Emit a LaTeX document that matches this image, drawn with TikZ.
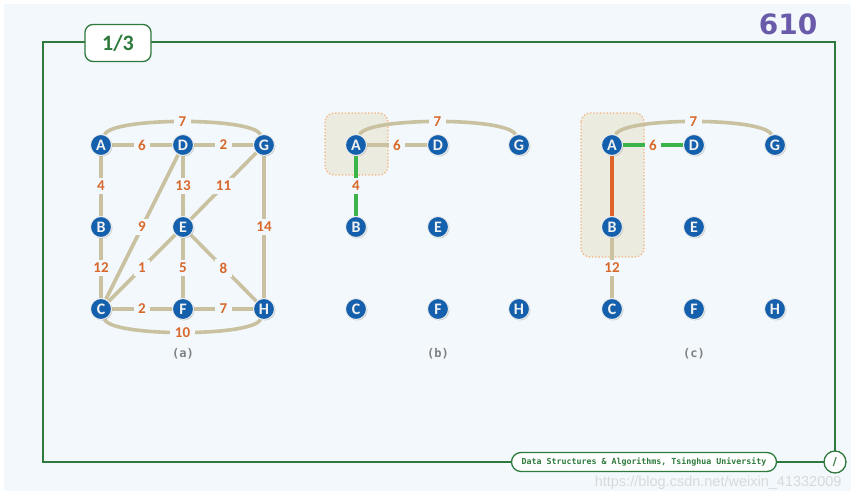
\documentclass[tikz,border=0pt]{standalone}
\usepackage{fontspec}
\setmainfont{Carlito}
\newfontfamily\monof{DejaVu Sans Mono}
\newfontfamily\dvsf{DejaVu Sans}
\newfontfamily\libf{Liberation Sans}
\usetikzlibrary{shadows}
\pgfdeclarelayer{bgl}
\pgfdeclarelayer{back}
\pgfsetlayers{bgl,back,main}
\definecolor{bgc}{HTML}{F2F8FC}
\definecolor{framec}{HTML}{2E7A3C}
\definecolor{tanc}{HTML}{C9C1A0}
\definecolor{lblc}{HTML}{D9682B}
\definecolor{greenc}{HTML}{3BB54A}
\definecolor{orangec}{HTML}{E0632A}
\definecolor{nodec}{HTML}{1560AC}
\definecolor{hlfill}{HTML}{ECE9DA}
\definecolor{hldraw}{HTML}{F7B27A}
\definecolor{numc}{HTML}{6A5BAA}
\tikzset{
  vtx/.style={circle, fill=nodec, draw=white!85!gray, line width=1pt, minimum size=21pt, inner sep=0pt,
    text=white!90!gray, font=\bfseries\fontsize{16}{16}\selectfont, drop shadow={shadow xshift=1pt, shadow yshift=-1pt, opacity=0.35}},
  edge/.style={draw=tanc, line width=3.6pt},
  gedge/.style={draw=greenc, line width=4.5pt},
  oedge/.style={draw=orangec, line width=4.5pt},
  lbl/.style={fill=bgc, text=lblc, inner xsep=4.5pt, inner ysep=3.5pt, font=\bfseries\fontsize{15}{15}\selectfont},
  hlbox/.style={draw=hldraw, dotted, line width=1.3pt, rounded corners=9pt, fill=hlfill, fill opacity=0.85},
  frame/.style={draw=framec, line width=1.3pt},
  caption/.style={text=gray, font=\monof\bfseries\fontsize{12}{12}\selectfont},
}
\newcommand\mknodes[2]{%
  \node[vtx] (#1A) at (#2+101,145) {A};
  \node[vtx] (#1D) at (#2+183,145) {D};
  \node[vtx] (#1G) at (#2+264,145) {G};
  \node[vtx] (#1B) at (#2+101,227) {B};
  \node[vtx] (#1E) at (#2+183,227) {E};
  \node[vtx] (#1C) at (#2+101,309) {C};
  \node[vtx] (#1F) at (#2+183,309) {F};
  \node[vtx] (#1H) at (#2+264,309) {H};
}
\begin{document}
\begin{tikzpicture}[x=1pt,y=-1pt]
\useasboundingbox (0,0) rectangle (855,500);
\begin{pgfonlayer}{bgl}
\fill[white] (0,0) rectangle (855,500);
\fill[bgc] (4,4) rectangle (851,491);
\end{pgfonlayer}
% frame
\draw[frame] (43,42) rectangle (835,462);
\node[draw=framec, line width=1.3pt, fill=white, rounded corners=8pt, minimum width=66pt, minimum height=37pt,
  text=framec, font=\bfseries\fontsize{22}{22}\selectfont] (pg) at (118,43) {1/3};
\node[text=numc, font=\dvsf\bfseries\fontsize{28}{28}\selectfont] (num) at (788,24) {610};
\node[draw=framec, line width=1.3pt, fill=white, rounded corners=9.5pt, minimum width=265pt, minimum height=19pt, inner sep=0pt,
  text=framec, font=\monof\bfseries\fontsize{8.3}{8.3}\selectfont] (foot) at (644,462) {Data Structures \& Algorithms, Tsinghua University};
\node[circle, draw=framec, line width=1.3pt, fill=white, minimum size=22pt, inner sep=0pt, text=framec,
  font=\dvsf\bfseries\fontsize{11}{11}\selectfont] (pgc) at (835,462) {/};
\node[text=gray!30, font=\libf\fontsize{14.5}{14.5}\selectfont, anchor=east] (wm) at (845,483) {https://blog.csdn.net/weixin\_41332009};
% nodes
\mknodes{a}{0}
\mknodes{b}{255}
\mknodes{c}{511}
% captions
\node[caption] (capa) at (183,354) {(a)};
\node[caption] (capb) at (438,354) {(b)};
\node[caption] (capc) at (694,354) {(c)};
\begin{pgfonlayer}{back}
% panel (a)
\draw[edge] (aA) .. controls +(10,-28) and +(-10,-28) .. node[lbl]{7} (aG);
\draw[edge] (aC) .. controls +(10,28) and +(-10,28) .. node[lbl]{10} (aH);
\draw[edge] (aA) -- node[lbl]{6} (aD);
\draw[edge] (aD) -- node[lbl]{2} (aG);
\draw[edge] (aA) -- node[lbl]{4} (aB);
\draw[edge] (aD) -- node[lbl]{13} (aE);
\draw[edge] (aE) -- node[lbl]{11} (aG);
\draw[edge] (aD) -- node[lbl]{9} (aC);
\draw[edge] (aG) -- node[lbl]{14} (aH);
\draw[edge] (aB) -- node[lbl]{12} (aC);
\draw[edge] (aE) -- node[lbl]{1} (aC);
\draw[edge] (aE) -- node[lbl]{5} (aF);
\draw[edge] (aE) -- node[lbl]{8} (aH);
\draw[edge] (aC) -- node[lbl]{2} (aF);
\draw[edge] (aF) -- node[lbl]{7} (aH);
% panel (b)
\path[hlbox] (325,113) rectangle (388,175);
\draw[edge] (bA) .. controls +(10,-28) and +(-10,-28) .. node[lbl]{7} (bG);
\draw[edge] (bA) -- node[lbl]{6} (bD);
\draw[gedge] (bA) -- node[lbl]{4} (bB);
% panel (c)
\path[hlbox] (581,113) rectangle (644,257);
\draw[edge] (cA) .. controls +(10,-28) and +(-10,-28) .. node[lbl]{7} (cG);
\draw[gedge] (cA) -- node[lbl]{6} (cD);
\draw[oedge] (cA) -- (cB);
\draw[edge] (cB) -- node[lbl]{12} (cC);
\end{pgfonlayer}
\end{tikzpicture}
\end{document}
